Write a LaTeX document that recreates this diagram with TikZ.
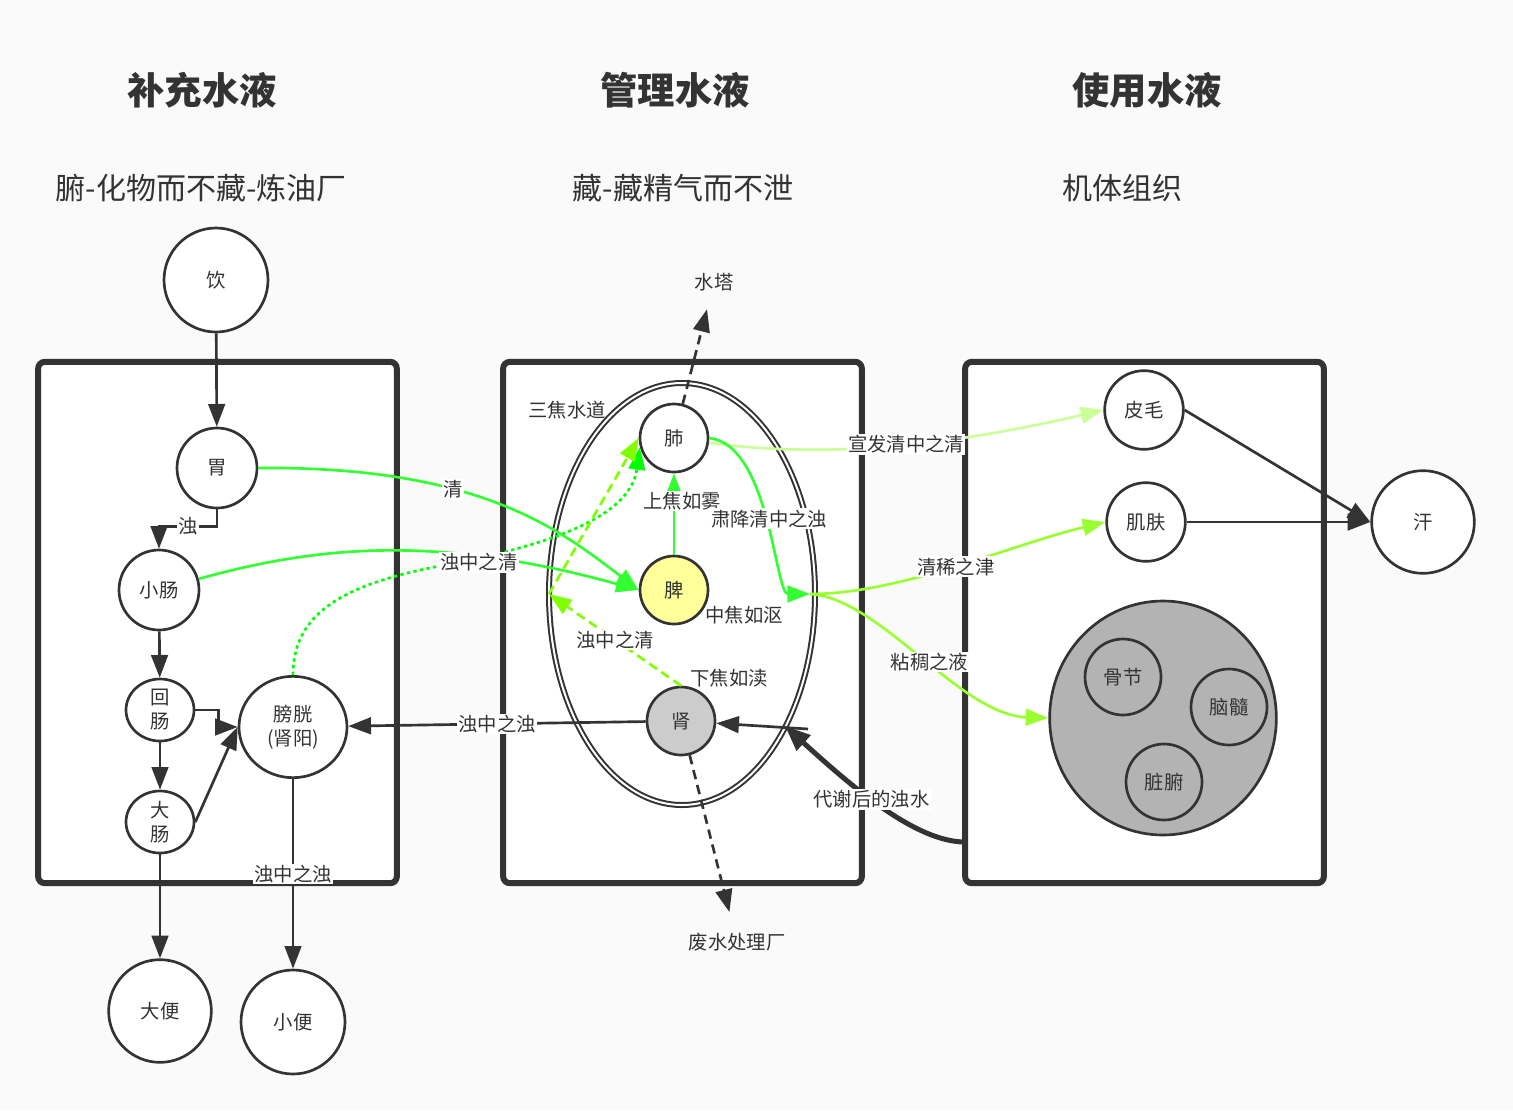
\documentclass[tikz,border=0pt]{standalone}
\usepackage{fontspec}
\setmainfont{Noto Sans CJK SC}
\usetikzlibrary{arrows.meta,shapes.geometric,positioning}
\definecolor{ink}{HTML}{333333}
\definecolor{bgc}{HTML}{FAFAFA}
\definecolor{gqing}{HTML}{33FF33}
\definecolor{gdot}{HTML}{00FF00}
\definecolor{gdash}{HTML}{80FF00}
\definecolor{gpale}{HTML}{CCFF99}
\definecolor{gjin}{HTML}{99FF33}
\definecolor{piy}{HTML}{FFFF99}
\definecolor{shenc}{HTML}{CCCCCC}
\definecolor{bigc}{HTML}{B3B3B3}

\begin{document}
\begin{tikzpicture}[x=0.75pt,y=-0.75pt]
\tikzstyle{every node}+=[inner sep=0pt, text=ink, font=\fontsize{14.5}{18}\selectfont]
\tikzstyle{organ}=[circle, draw=ink, line width=2pt, fill=white]
\tikzstyle{gut}=[ellipse, draw=ink, line width=2pt, fill=white, align=center]
\tikzstyle{panel}=[draw=ink, line width=4.5pt, rounded corners=5pt, fill=white, minimum width=269pt, minimum height=391pt]
\tikzstyle{edgetxt}=[fill=white, inner sep=1pt]
\tikzstyle{headtxt}=[font=\fontsize{28}{34}\selectfont\bfseries]
\tikzstyle{subtxt}=[font=\fontsize{22.5}{27}\selectfont]
\tikzstyle{arrowed}=[draw=ink, line width=2pt, -{Triangle[length=17pt,width=12.5pt]}]
\tikzstyle{greenarrow}=[line width=2pt, -{Triangle[length=17pt,width=12.5pt]}]
\useasboundingbox (0,0) rectangle (1513,1110);
\fill[bgc] (0,0) rectangle (1513,1110);
\node[headtxt] (h1) at (202,90) {补充水液};
\node[headtxt] (h2) at (675,90) {管理水液};
\node[headtxt] (h3) at (1147,90) {使用水液};
\node[subtxt] (s1) at (201,188) {腑-化物而不藏-炼油厂};
\node[subtxt] (s2) at (683,188) {藏-藏精气而不泄};
\node[subtxt] (s3) at (1122,188) {机体组织};
\node[panel] (fu) at (217.5,622.5) {};
\node[panel] (zang) at (682.5,622.5) {};
\node[panel] (jt) at (1144.5,622.5) {};
\node[organ, minimum size=78pt] (yin) at (216,280) {饮};
\node[organ, minimum size=60pt] (wei) at (217,468) {胃};
\node[organ, minimum size=60pt] (xc) at (159,590) {小肠};
\node[gut, minimum width=51pt, minimum height=46.5pt] (hc) at (160,710) {回\\肠};
\node[gut, minimum width=51pt, minimum height=46.5pt] (dc) at (160,822) {大\\肠};
\node[gut, minimum width=81pt, minimum height=76pt] (pg) at (293,727) {膀胱\\(肾阳)};
\node[organ, minimum size=77pt] (db) at (160,1011) {大便};
\node[organ, minimum size=78pt] (xb) at (293,1022) {小便};
\node[ellipse, draw=ink, line width=1.5pt, double=white, double distance=1.5pt, minimum width=199.5pt, minimum height=316.5pt] (sj) at (682,594) {};
\node (sjsd) at (567,410) {三焦水道};
\node[organ, minimum size=51pt] (fei) at (674,438) {肺};
\node[organ, minimum size=51pt, fill=piy] (pi) at (674,590) {脾};
\node[organ, minimum size=51pt, fill=shenc] (shen) at (681,721) {肾};
\node (zjro) at (744,615) {中焦如沤};
\node (xjrd) at (729,678) {下焦如渎};
\node (st) at (714,282) {水塔};
\node (fs) at (737,942) {废水处理厂};
\node[organ, minimum size=59pt] (pimao) at (1144,410) {皮毛};
\node[organ, minimum size=59pt] (jifu) at (1146,522) {肌肤};
\node[ellipse, draw=ink, line width=2pt, fill=bigc, minimum width=170pt, minimum height=175.5pt] (big) at (1163,718) {};
\node[organ, minimum size=57pt, fill=bigc] (gj) at (1123,677) {骨节};
\node[organ, minimum size=57pt, fill=bigc] (ns) at (1229,707) {脑髓};
\node[organ, minimum size=57pt, fill=bigc] (zf) at (1164,782) {脏腑};
\node[organ, minimum size=77pt] (han) at (1423,522) {汗};
\coordinate (jing) at (549,594);
\coordinate (sz) at (810,594);
\coordinate (dx) at (965,842);
\coordinate (ee) at (785,726);
\coordinate (ee2) at (808,729);
\draw[arrowed] (yin) -- (wei);
\draw[arrowed] (wei.south) -- ++(0,17) -| node[edgetxt, pos=0.25] {浊} (xc.north);
\draw[arrowed] (xc) -- (hc);
\draw[arrowed] (hc.east) -- ++(23,0) |- (pg.west);
\draw[arrowed] (hc) -- (dc);
\draw[arrowed] (dc.east) -- (pg.west);
\draw[arrowed] (dc) -- (db);
\draw[arrowed] (pg) -- node[edgetxt] {浊中之浊} (xb);
\draw[greenarrow, draw=gdot, dash pattern=on 2.5pt off 2.5pt] (pg.north) .. controls (293,615) and (340,585) .. (440,566) .. controls (540,547) and (630,520) .. (fei.195);
\draw[greenarrow, draw=gqing] (wei.east) .. controls (480,466) and (560,530) .. node[edgetxt, pos=0.37] {清} (pi.west);
\draw[greenarrow, draw=gqing] (xc) .. controls (320,545) and (440,535) .. node[edgetxt, pos=0.7, yshift=-4pt] {浊中之清} (pi.west);
\draw[greenarrow, draw=gdash, dash pattern=on 7pt off 4pt] (shen.north) -- node[edgetxt] {浊中之清} (jing);
\draw[greenarrow, draw=gdash, dash pattern=on 7pt off 4pt] (jing) -- (fei.west);
\draw[greenarrow, draw=gqing] (pi) -- (fei);
\node[edgetxt] (sjrw) at (682,501) {上焦如雾};
\draw[arrowed, dash pattern=on 7pt off 4.5pt, shorten >=14pt] (fei) -- (st);
\draw[arrowed, dash pattern=on 7pt off 4.5pt, shorten >=16pt] (shen) -- (fs);
\draw[arrowed] (shen) -- node[edgetxt] {浊中之浊} (pg);
\draw[arrowed, line width=3.75pt, -{Triangle[length=19pt,width=15pt]}] (dx) .. controls (915,842) and (850,785) .. node[edgetxt, pos=0.55] {代谢后的浊水} (ee);
\draw[arrowed] (ee2) -- (shen);
\draw[greenarrow, draw=gpale] (fei) .. controls (820,458) and (940,448) .. node[edgetxt, pos=0.55] {宣发清中之清} (pimao.west);
\draw[greenarrow, draw=gqing] (fei.east) .. controls (770,445) and (775,594) .. node[edgetxt, pos=0.5] {肃降清中之浊} (sz);
\draw[greenarrow, draw=gjin] (sz) .. controls (900,594) and (1010,545) .. node[edgetxt, pos=0.5] {清稀之津} (jifu.west);
\draw[greenarrow, draw=gjin] (sz) .. controls (880,598) and (960,715) .. node[edgetxt, pos=0.53] {粘稠之液} (big.west);
\draw[arrowed] (pimao.east) -- (han.west);
\draw[arrowed] (jifu) -- (han.west);
\end{tikzpicture}
\end{document}
